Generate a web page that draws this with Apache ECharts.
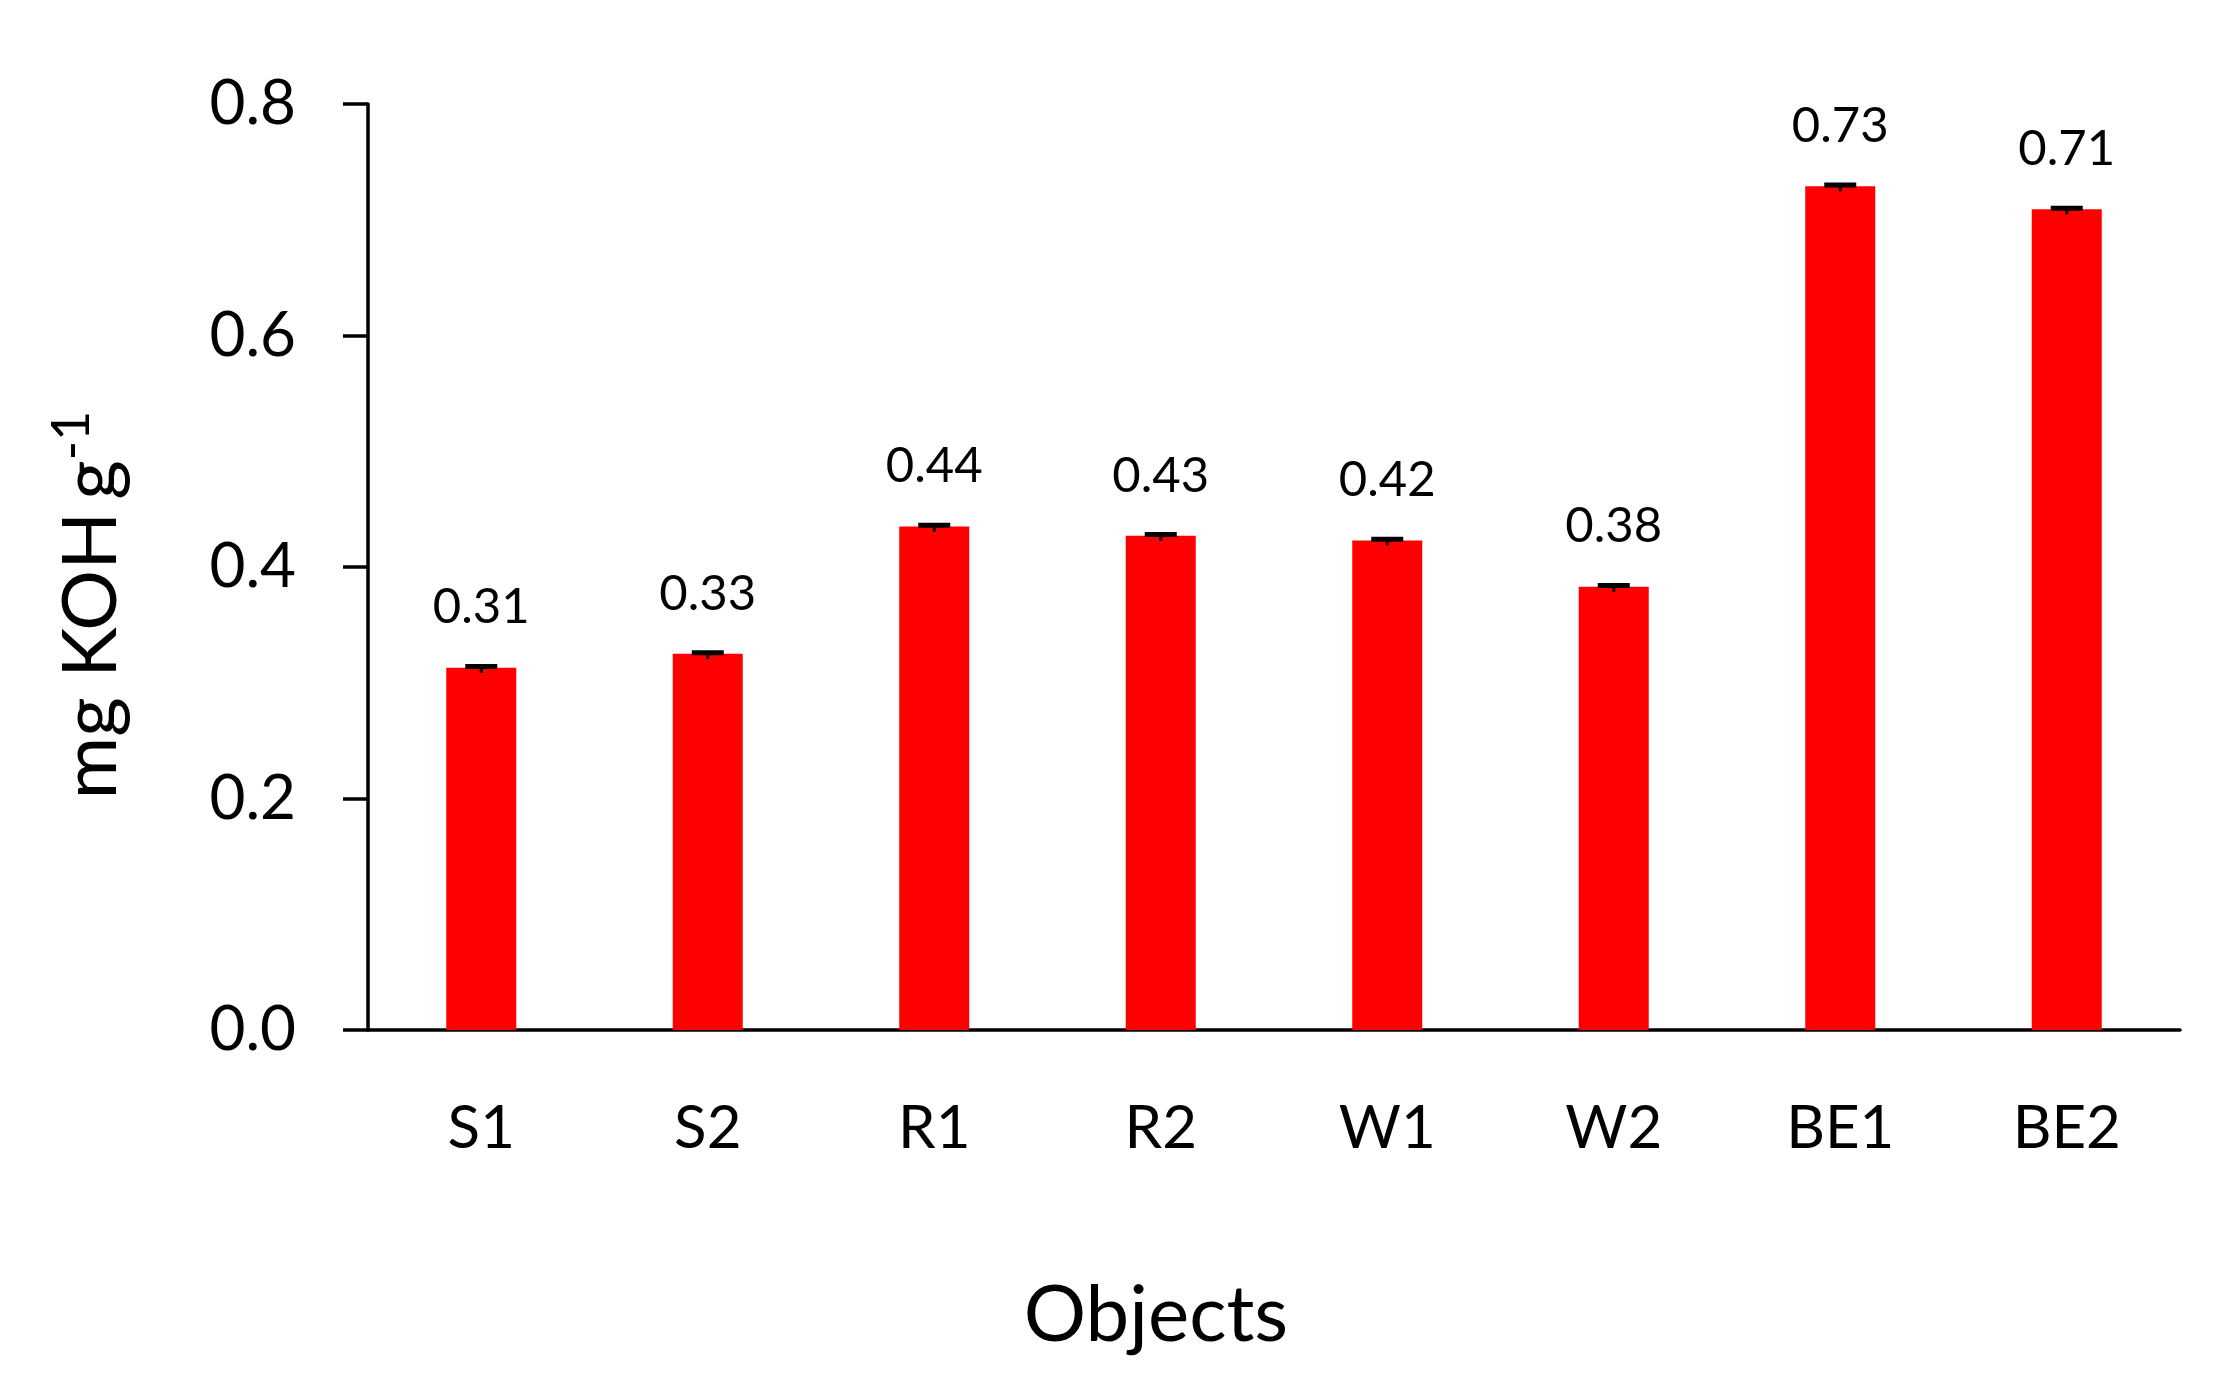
<!DOCTYPE html>
<html><head><meta charset="utf-8">
<script src="https://cdn.jsdelivr.net/npm/echarts@6/dist/echarts.min.js"></script>
<style>html,body{margin:0;padding:0;background:#fff}#c{width:2237px;height:1379px}</style>
</head><body><div id="c"></div>
<script>
const categories = ['S1', 'S2', 'R1', 'R2', 'W1', 'W2', 'BE1', 'BE2'];
const values = [0.313, 0.325, 0.435, 0.427, 0.423, 0.383, 0.729, 0.709];
const errors = [0.001, 0.001, 0.001, 0.001, 0.001, 0.001, 0.001, 0.001];
const valueLabels = ['0.31', '0.33', '0.44', '0.43', '0.42', '0.38', '0.73', '0.71'];
const yMin = 0, yMax = 0.8, yStep = 0.2;

const FONT = 'Lato';
const chart = echarts.init(document.getElementById('c'), null, {renderer: 'canvas'});

const errData = values.map((v, i) => [i, v, errors[i]]);
const labData = values.map((v, i) => [i, v]);

chart.setOption({
  backgroundColor: '#fff',
  animation: false,
  grid: {left: 368, right: 57, top: 104, bottom: 349, containLabel: false},
  xAxis: {
    type: 'category',
    data: categories,
    axisLine: {show: true, lineStyle: {color: '#000', width: 3.5}},
    axisTick: {show: false},
    axisLabel: {color: '#000', fontFamily: FONT, fontSize: 60, margin: 69},
    name: 'Objects',
    nameLocation: 'middle',
    nameGap: 247,
    nameTextStyle: {color: '#000', fontFamily: FONT, fontSize: 78, padding: [0, 236, 0, 0]}
  },
  yAxis: {
    type: 'value',
    min: yMin, max: yMax, interval: yStep,
    splitLine: {show: false},
    axisLine: {show: true, lineStyle: {color: '#000', width: 3.5}},
    axisTick: {show: true, inside: false, length: 25, lineStyle: {color: '#000', width: 3.5}},
    axisLabel: {color: '#000', fontFamily: FONT, fontSize: 62, margin: 72,
      formatter: v => v.toFixed(1)},
    name: '{a|mg KOH}{c|g}{b|-1}',
    nameLocation: 'middle',
    nameRotate: 90,
    nameGap: 232,
    nameTextStyle: {
      color: '#000', fontFamily: FONT, padding: [0, 76, 0, 0],
      rich: {
        a: {fontFamily: FONT, fontSize: 76, color: '#000', lineHeight: 90},
        c: {fontFamily: FONT, fontSize: 76, color: '#000', lineHeight: 90, padding: [0, 0, 0, 12]},
        b: {fontFamily: FONT, fontSize: 52, color: '#000', verticalAlign: 'top', lineHeight: 60}
      }
    }
  },
  series: [
    {
      type: 'bar',
      data: values,
      barWidth: 70,
      itemStyle: {color: '#FF0000'},
      z: 2
    },
    {
      type: 'custom',
      data: errData,
      z: 3,
      renderItem: function (params, api) {
        const i = api.value(0), v = api.value(1), e = api.value(2);
        const top = api.coord([i, v + e]);
        const bot = api.coord([i, v - e]);
        const hw = 16;
        return {
          type: 'group',
          children: [
            {type: 'line', shape: {x1: top[0], y1: top[1], x2: bot[0], y2: bot[1] + 4}, style: {stroke: '#000', lineWidth: 3}},
            {type: 'line', shape: {x1: top[0] - hw, y1: top[1], x2: top[0] + hw, y2: top[1]}, style: {stroke: '#000', lineWidth: 5}}
          ]
        };
      }
    },
    {
      type: 'custom',
      data: labData,
      z: 4,
      renderItem: function (params, api) {
        const i = api.value(0), v = api.value(1);
        const p = api.coord([i, v]);
        return {
          type: 'text',
          style: {
            x: p[0], y: p[1] - 60,
            text: valueLabels[params.dataIndex],
            fontFamily: FONT, fontSize: 49, fill: '#000',
            align: 'center', verticalAlign: 'middle'
          }
        };
      }
    }
  ]
});
</script>
</body></html>
